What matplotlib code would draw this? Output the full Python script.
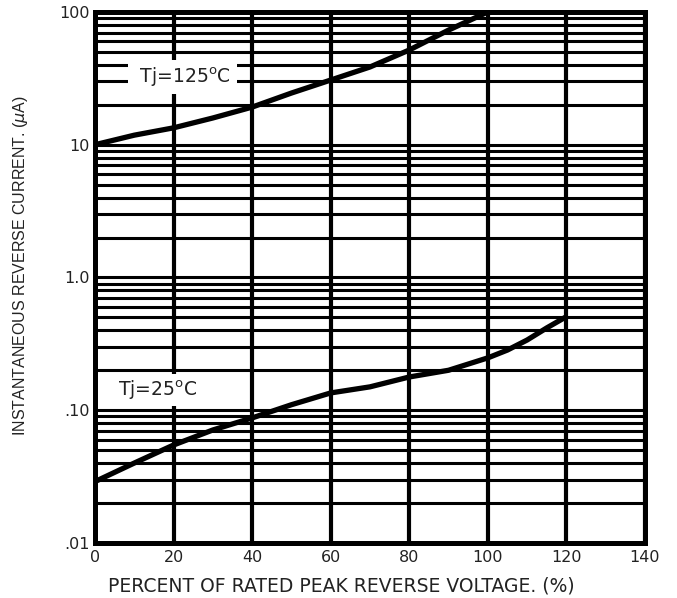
import matplotlib
matplotlib.use("Agg")
import matplotlib.pyplot as plt
from matplotlib.ticker import LogLocator, FixedLocator, FixedFormatter, NullFormatter

plt.rcParams['font.family'] = ['DejaVu Sans']
plt.rcParams['mathtext.fontset'] = 'dejavusans'

# readings
x_125 = [0, 10, 20, 30, 40, 50, 60, 70, 80, 90, 100]
y_125 = [10, 11.8, 13.4, 15.9, 19.2, 24.5, 30.7, 38.5, 51.7, 73, 100]

x_25 = [0, 10, 20, 30, 40, 50, 60, 70, 80, 90, 100, 105, 110, 115, 120]
y_25 = [0.029, 0.040, 0.0547, 0.071, 0.0875, 0.110, 0.135, 0.150, 0.178,
        0.200, 0.248, 0.284, 0.338, 0.417, 0.507]

x_ticks = [0, 20, 40, 60, 80, 100, 120, 140]
y_ticks = [0.01, 0.1, 1, 10, 100]
y_tick_labels = [".01", ".10", "1.0", "10", "100"]

fig = plt.figure(figsize=(6.77, 5.98), dpi=100)
ax = fig.add_axes([0.1403, 0.092, 0.8124, 0.888])

ax.set_yscale('log')
ax.set_xlim(0, 140)
ax.set_ylim(0.01, 100)

ax.xaxis.set_major_locator(FixedLocator(x_ticks))
ax.yaxis.set_major_locator(FixedLocator(y_ticks))
ax.yaxis.set_major_formatter(FixedFormatter(y_tick_labels))
ax.yaxis.set_minor_locator(LogLocator(base=10, subs=range(2, 10)))
ax.yaxis.set_minor_formatter(NullFormatter())

ax.grid(which='major', axis='x', color='black', lw=3.0)
ax.grid(which='both', axis='y', color='black', lw=2.2)
ax.set_axisbelow(True)

for s in ax.spines.values():
    s.set_linewidth(3.6)

ax.tick_params(which='both', length=0, labelsize=11.5, colors='#222222')
ax.tick_params(axis='x', pad=5)
ax.tick_params(axis='y', pad=4)

ax.plot(x_125, y_125, color='black', lw=3.8, solid_capstyle='butt', zorder=4)
ax.plot(x_25, y_25, color='black', lw=3.8, solid_capstyle='butt', zorder=4)

# label boxes blank out the grid behind them
ax.text(22.3, 32.4, ' Tj=125$^\\mathrm{o}$C ', fontsize=13.5, ha='center', va='center',
        color='#222222', zorder=3,
        bbox=dict(boxstyle='square,pad=0.28', fc='white', ec='none'))
ax.text(15.9, 0.142, r'Tj=25$^\mathrm{o}$C', fontsize=13.5, ha='center', va='center',
        color='#222222', zorder=3,
        bbox=dict(boxstyle='square,pad=0.25', fc='white', ec='none'))

ax.set_xlabel("PERCENT OF RATED PEAK REVERSE VOLTAGE. (%)", fontsize=13.5,
              color='#222222')
ax.xaxis.set_label_coords(0.447, -0.064)
ax.set_ylabel(r"INSTANTANEOUS REVERSE CURRENT. ($\mu$A)", fontsize=11.5,
              color='#222222', family='Liberation Sans')
ax.yaxis.set_label_coords(-0.118, 0.5235)

fig.savefig("out.png", dpi=100)
